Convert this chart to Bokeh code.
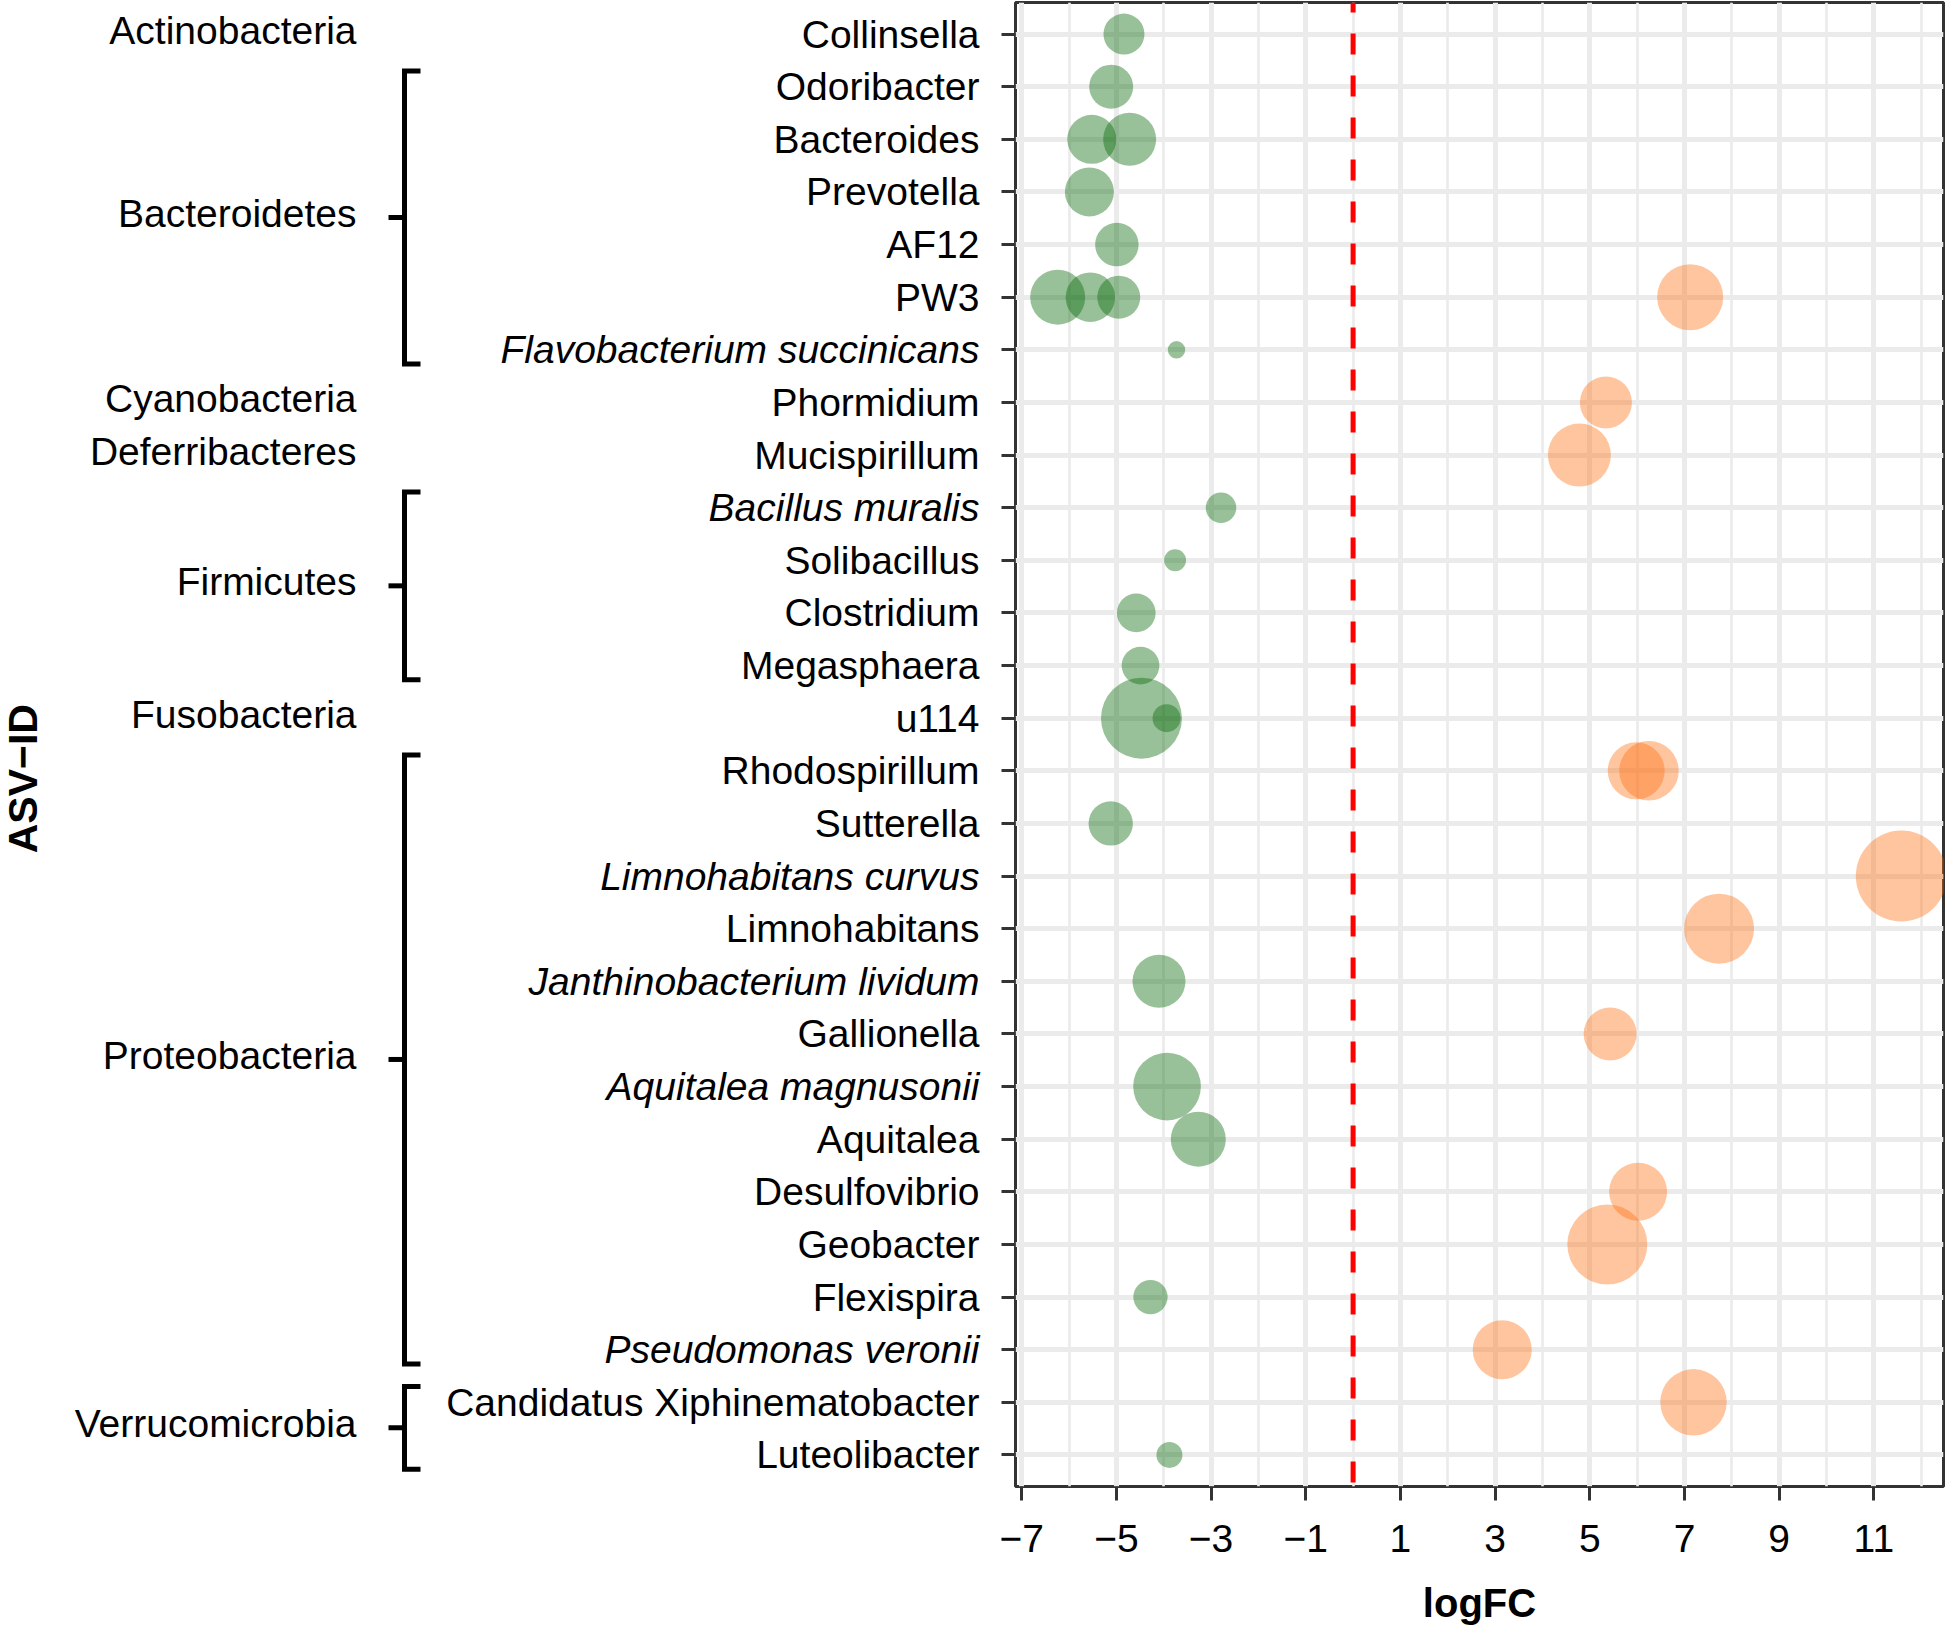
import math
from bokeh.plotting import figure
from bokeh.models import Range1d, FixedTicker, Span, ColumnDataSource, Label
from bokeh.layouts import row
from bokeh.embed import file_html
from bokeh.resources import INLINE
from bokeh.core.properties import value

# ---------------- data ----------------
taxa = [
    "Collinsella", "Odoribacter", "Bacteroides", "Prevotella", "AF12", "PW3",
    "Flavobacterium succinicans", "Phormidium", "Mucispirillum", "Bacillus muralis",
    "Solibacillus", "Clostridium", "Megasphaera", "u114", "Rhodospirillum",
    "Sutterella", "Limnohabitans curvus", "Limnohabitans", "Janthinobacterium lividum",
    "Gallionella", "Aquitalea magnusonii", "Aquitalea", "Desulfovibrio", "Geobacter",
    "Flexispira", "Pseudomonas veronii", "Candidatus Xiphinematobacter", "Luteolibacter",
]
italic_taxa = [
    "Flavobacterium succinicans", "Bacillus muralis", "Limnohabitans curvus",
    "Janthinobacterium lividum", "Aquitalea magnusonii", "Pseudomonas veronii",
]

phyla = ["Actinobacteria", "Bacteroidetes", "Cyanobacteria", "Deferribacteres",
         "Firmicutes", "Fusobacteria", "Proteobacteria", "Verrucomicrobia"]
phylum_first = ["Collinsella", "Odoribacter", "Phormidium", "Mucispirillum",
                "Bacillus muralis", "u114", "Rhodospirillum", "Candidatus Xiphinematobacter"]
phylum_last = ["Collinsella", "Flavobacterium succinicans", "Phormidium", "Mucispirillum",
               "Megasphaera", "u114", "Pseudomonas veronii", "Luteolibacter"]

point_taxon = [
    "Collinsella", "Odoribacter", "Bacteroides", "Bacteroides", "Prevotella", "AF12",
    "PW3", "PW3", "PW3", "PW3", "Flavobacterium succinicans", "Phormidium",
    "Mucispirillum", "Bacillus muralis", "Solibacillus", "Clostridium", "Megasphaera",
    "u114", "u114", "Rhodospirillum", "Rhodospirillum", "Sutterella",
    "Limnohabitans curvus", "Limnohabitans", "Janthinobacterium lividum", "Gallionella",
    "Aquitalea magnusonii", "Aquitalea", "Desulfovibrio", "Geobacter", "Flexispira",
    "Pseudomonas veronii", "Candidatus Xiphinematobacter", "Luteolibacter",
]
point_logfc = [
    -4.84, -5.11, -5.52, -4.72, -5.57, -4.99,
    -6.24, -5.55, -4.95, 7.12, -3.73, 5.34,
    4.78, -2.79, -3.76, -4.58, -4.49,
    -4.47, -3.94, 5.98, 6.25, -5.12,
    11.58, 7.73, -4.10, 5.43,
    -3.93, -3.27, 6.02, 5.37, -4.28,
    3.15, 7.19, -3.88,
]
point_size = [
    41, 44, 49, 53, 49, 43.5,
    55, 49.5, 43, 66, 17.5, 52,
    63, 30.5, 22, 38.7, 37.7,
    81, 28, 57, 59.5, 44.3,
    91, 70, 53, 53,
    67.7, 55, 58, 80, 34.3,
    59, 66.4, 26,
]

x_ticks = [-7, -5, -3, -1, 1, 3, 5, 7, 9, 11]
x_tick_labels = ["\u22127", "\u22125", "\u22123", "\u22121", "1", "3", "5", "7", "9", "11"]

# ---------------- layout constants ----------------
FONT = "Liberation Sans"
TOTAL_H = 1627
TOP_B = 2
BOT_B = 141
LEFT_W = 982
MAIN_BORDER_L = 33
MAIN_W = 1945 - LEFT_W

row_of = {t: i + 1 for i, t in enumerate(taxa)}
n = len(taxa)
rows = list(range(1, n + 1))
yr = Range1d(start=n + 0.6, end=0.4)

lo, hi = min(point_logfc), max(point_logfc)
span = hi - lo
xr = Range1d(start=lo - 0.05 * span, end=hi + 0.05 * span)

# ---------------- main panel ----------------
p = figure(width=MAIN_W, height=TOTAL_H, x_range=xr, y_range=yr,
           output_backend="svg", toolbar_location=None,
           min_border_left=MAIN_BORDER_L, min_border_right=2, min_border_top=TOP_B,
           min_border_bottom=BOT_B)
p.outline_line_color = "#333333"
p.outline_line_width = 3
p.background_fill_color = "white"
p.border_fill_color = "white"

ax = p.xaxis[0]
ax.ticker = FixedTicker(ticks=x_ticks, minor_ticks=[t + 1 for t in x_ticks])
ax.major_label_overrides = {t: lab for t, lab in zip(x_ticks, x_tick_labels)}
ax.axis_line_color = None
ax.major_tick_line_color = "#333333"
ax.major_tick_line_width = 3
ax.major_tick_out = 14
ax.major_tick_in = 0
ax.minor_tick_line_color = None
ax.major_label_text_font = FONT
ax.major_label_text_font_size = "39px"
ax.major_label_text_color = "black"
ax.major_label_standoff = 24
ax.axis_label = "logFC"
ax.axis_label_text_font = FONT
ax.axis_label_text_font_size = "40px"
ax.axis_label_text_font_style = "bold"
ax.axis_label_text_color = "black"
ax.axis_label_standoff = 26

yax = p.yaxis[0]
yax.ticker = FixedTicker(ticks=rows, minor_ticks=[])
yax.major_label_overrides = {r: "" for r in rows}
yax.major_label_text_font_size = "1px"
yax.major_label_text_color = None
yax.major_label_standoff = 0
yax.axis_line_color = None
yax.major_tick_line_color = "#333333"
yax.major_tick_line_width = 3
yax.major_tick_out = 14
yax.major_tick_in = 0
yax.minor_tick_line_color = None

p.xgrid.grid_line_color = "#EBEBEB"
p.xgrid.grid_line_width = 5
p.xgrid.minor_grid_line_color = "#EBEBEB"
p.xgrid.minor_grid_line_width = 2.7
p.ygrid.grid_line_color = "#EBEBEB"
p.ygrid.grid_line_width = 5

p.add_layout(Span(location=0, dimension="height", line_color="red",
                  line_width=5, line_dash="21 21", line_dash_offset=11))

colors = ["#006400" if v < 0 else "#FF6F10" for v in point_logfc]
src = ColumnDataSource(dict(
    x=point_logfc,
    y=[row_of[t] for t in point_taxon],
    size=point_size,
    color=colors,
))
p.scatter("x", "y", size="size", marker="circle", fill_color="color",
          fill_alpha=0.4, line_color=None, source=src)

# ---------------- left panel: labels and brackets ----------------
lp = figure(width=LEFT_W, height=TOTAL_H, x_range=Range1d(0, LEFT_W), y_range=yr,
            output_backend="svg", toolbar_location=None,
            x_axis_location=None, y_axis_location=None,
            min_border_left=0, min_border_right=0, min_border_top=TOP_B,
            min_border_bottom=BOT_B)
lp.outline_line_color = None
lp.background_fill_color = "white"
lp.border_fill_color = "white"
lp.grid.visible = False

LABEL_RIGHT = 979
BR_X, BR_SERIF, BR_TICK = 404, 420, 388
PAD_TOP, PAD_BOT = 0.3, 0.27
PHYLUM_RIGHT = 356

lab_src = ColumnDataSource(dict(
    x=[LABEL_RIGHT] * n,
    y=rows,
    text=taxa,
    style=["italic" if t in italic_taxa else "normal" for t in taxa],
))
lp.text("x", "y", text="text", source=lab_src, text_font=value(FONT),
        text_font_size=value("39px"), text_font_style="style",
        text_align="right", text_baseline="middle", text_color="black")

br_xs, br_ys, mid_y0, ph_y = [], [], [], []
for ph, f, l in zip(phyla, phylum_first, phylum_last):
    r0, r1 = row_of[f], row_of[l]
    if r0 == r1:
        ph_y.append(r0)
        continue
    top, bot = r0 - PAD_TOP, r1 + PAD_BOT
    br_xs.append([BR_SERIF, BR_X, BR_X, BR_SERIF])
    br_ys.append([top, top, bot, bot])
    mid = (top + bot) / 2
    mid_y0.append(mid)
    ph_y.append(mid)

lp.multi_line(br_xs, br_ys, line_color="black", line_width=5, line_join="miter")
lp.segment(x0=[BR_TICK] * len(mid_y0), x1=[BR_X] * len(mid_y0), y0=mid_y0, y1=mid_y0,
           line_color="black", line_width=5)

ph_src = ColumnDataSource(dict(x=[PHYLUM_RIGHT] * len(phyla), y=ph_y, text=phyla))
lp.text("x", "y", text="text", source=ph_src, text_font=value(FONT),
        text_font_size=value("39px"), text_align="right", text_baseline="middle",
        text_color="black", y_offset=-4)

lp.add_layout(Label(x=22, y=15.15, text="ASV\u2212ID", angle=math.pi / 2,
                    text_align="center", text_baseline="middle",
                    text_font=FONT, text_font_size="41px", text_font_style="bold",
                    text_color="black"))

layout = row(lp, p)
open("out.html", "w").write(file_html(layout, INLINE))
